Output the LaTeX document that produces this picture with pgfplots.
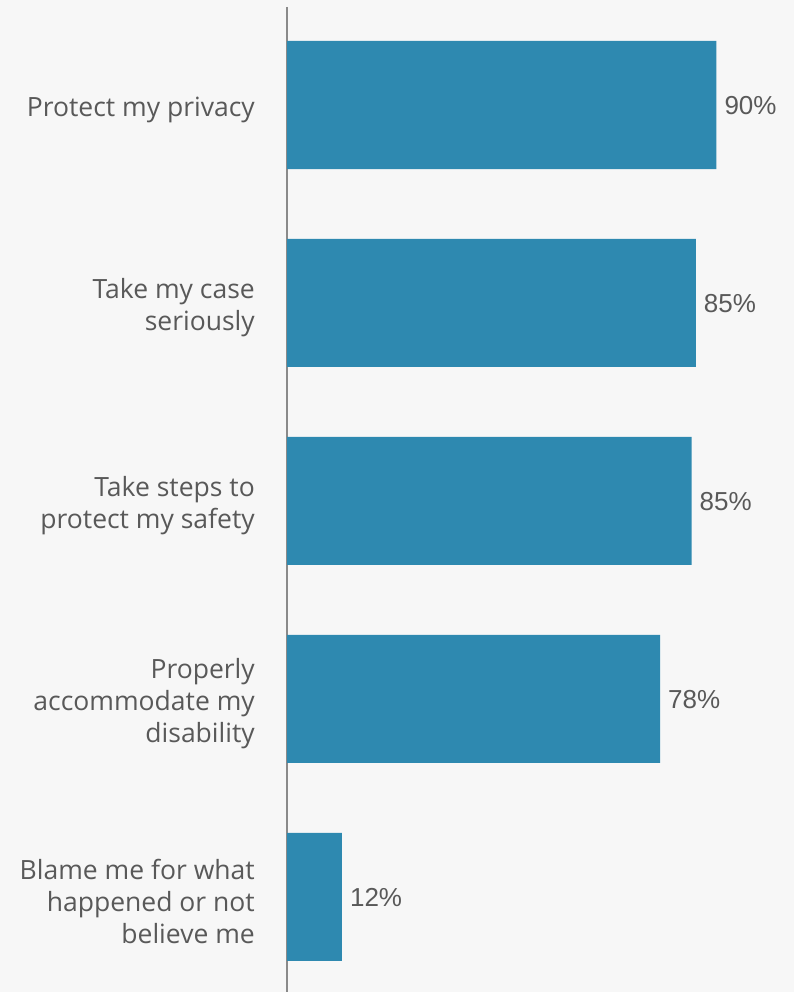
\documentclass[border=0pt]{standalone}
\usepackage{fontspec}
\setmainfont{Open Sans}
\newfontfamily\arial{Liberation Sans}
\usepackage{pgfplots}
\pgfplotsset{compat=1.18}
\definecolor{bg}{HTML}{F7F7F7}
\definecolor{barc}{HTML}{2E89B0}
\definecolor{txt}{HTML}{595959}
\definecolor{axc}{HTML}{8A8A8A}
\begin{document}
\begin{tikzpicture}[x=1pt,y=1pt]
\fill[bg] (0,0) rectangle (794,992);
\begin{axis}[
  at={(287pt,0pt)}, anchor=south west,
  scale only axis, width=477pt, height=985pt,
  xmin=0, xmax=100,
  ymin=-0.495, ymax=4.48, y dir=reverse,
  axis x line=none,
  axis y line*=left,
  y axis line style={axc, line width=1.5pt, -},
  major tick length=0pt,
  ytick={0,1,2,3,4},
  yticklabels={Protect my privacy, {Take my case\\seriously}, {Take steps to\\protect my safety}, {Properly\\accommodate my\\disability}, {Blame me for what\\happened or not\\believe me}},
  yticklabel style={align=right, inner sep=0pt, xshift=-32pt, yshift=-5pt, text=txt, font=\fontsize{26.5}{32}\selectfont},
  xbar, bar width=0.6465,
  point meta=explicit symbolic,
  nodes near coords,
  nodes near coords style={anchor=west, text=txt, font=\arial\fontsize{26}{30}\selectfont, inner sep=0pt, xshift=8pt, yshift=-1pt},
]
\addplot[fill=barc, draw=none] coordinates {
  (90,0) [90\%]
  (85.7,1) [85\%]
  (84.8,2) [85\%]
  (78.2,3) [78\%]
  (11.5,4) [12\%]
};
\end{axis}
\pgfresetboundingbox
\useasboundingbox (0,0) rectangle (794,992);
\end{tikzpicture}
\end{document}
